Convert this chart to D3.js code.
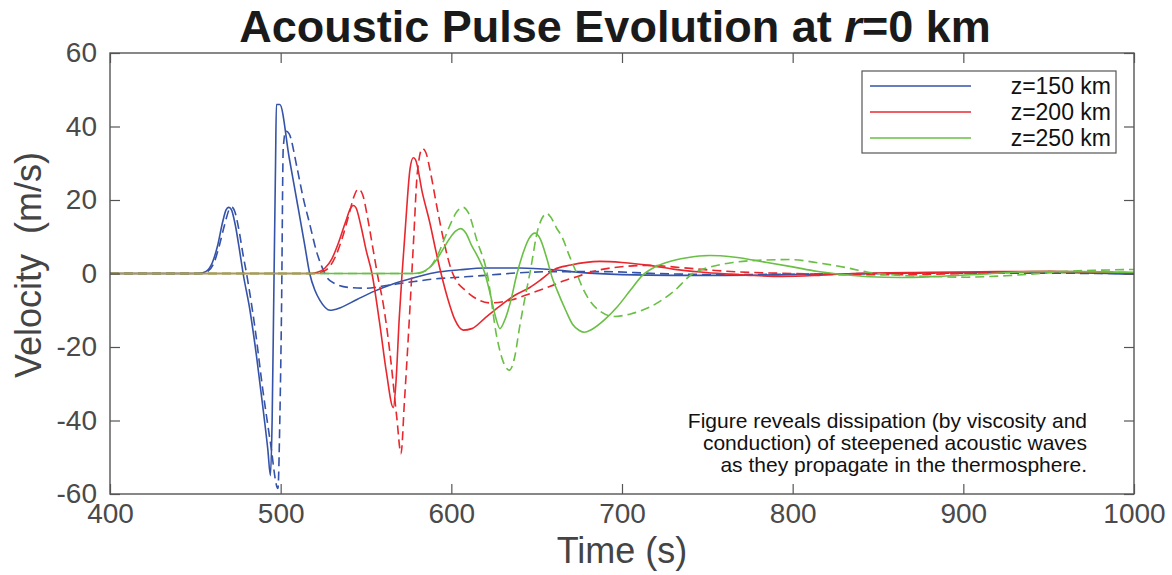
<!DOCTYPE html>
<html>
<head>
<meta charset="utf-8">
<script src="https://cdn.jsdelivr.net/npm/d3@7"></script>
<style>
  body { margin: 0; background: #fff; }
  svg text { font-family: "Liberation Sans", Arial, Helvetica, sans-serif; }
</style>
</head>
<body>
<svg id="chart" width="1172" height="575"></svg>
<script>
// tick values
var xTicks = [400, 500, 600, 700, 800, 900, 1000];
var yTicks = [-60, -40, -20, 0, 20, 40, 60];

// series: [time (s), velocity (m/s)]
var blueSolid = [[400,0],[452,0],[456,0.5],[460,3],[463,7.5],[466,14],[468,17.3],[469.5,18],[471,17.5],[473.5,13],[476,6],[478,0],[482,-10],[486,-23],[490,-38],[492.5,-48],[494,-55],[495,-40],[496,-5],[497,30],[497.5,46],[499.5,46],[505,31.5],[510,18.5],[514,8],[517,0],[520,-4.5],[523,-7.3],[529,-10],[535,-9.3],[545,-7],[555,-4.8],[565,-3],[577,-1.3],[590,0.2],[605,1],[620,1.5],[640,1.5],[660,1],[675,0.3],[700,-0.3],[730,-0.5],[760,-0.5],[800,-0.3],[850,0],[900,0.2],[950,0.3],[1000,-0.2]];
var blueDashed = [[400,0],[453,0],[457,0.5],[461,3],[464,7.5],[467,13],[470,17.5],[471.5,18],[473,17],[475.5,12],[478,5],[480,0],[485,-15],[489.5,-31.5],[494,-46],[498.4,-58.5],[499.5,-40],[500.5,-10],[501.5,34],[503,38.8],[505,38],[509.5,29],[513,21],[517,13.5],[521,6],[524,2],[527,-1],[532,-2.8],[540,-3.8],[550,-4],[560,-3.4],[575,-2.4],[590,-1.5],[605,-1],[620,-0.5],[640,0.2],[660,0.5],[690,0.5],[720,0],[760,-0.3],[800,-0.2],[850,0],[900,0.1],[1000,0]];
var redSolid = [[400,0],[518,0],[522,0.4],[526,1.5],[530,4],[534,8.5],[538,14],[541,17.8],[542.5,18.5],[544,18],[547,13],[550,6.5],[553.5,0],[558,-13.5],[562,-27],[566,-36.5],[567.5,-30],[569.5,-12],[571,-1],[573,12],[575.8,28.5],[577.7,31.5],[579,31],[583,22],[587.5,13.6],[591,6],[594,0],[598,-7],[602,-12.5],[607,-15.4],[612,-15],[620,-12],[628,-9],[637,-6],[646,-3.8],[653,-1.5],[660,1],[670,2.3],[687,3.3],[700,3],[716,2.2],[730,1.2],[746,0.4],[760,-0.1],[775,-0.5],[794,-0.8],[815,-0.5],[835,0],[880,0.3],[920,0.5],[950,0.6],[1000,0]];
var redDashed = [[400,0],[520,0],[524,0.4],[528,1.5],[532,4.5],[536,9.5],[540,16],[543,21],[545.5,23],[548,21.5],[551,15],[554,7],[557,-1],[560,-8],[564,-21.5],[568,-39],[570.5,-49],[572.5,-35],[575.8,-9],[578,10],[580,27],[583,34],[585,33],[588,27],[591.6,18],[596,8],[600,1],[603,-2],[608,-4.5],[613,-6.4],[623,-8],[635,-7.2],[646,-5.5],[658,-3.5],[666,-2],[674,-0.8],[681,0.3],[695,1.6],[716,2.2],[735,1.6],[755,0.8],[775,0.3],[800,0],[830,-0.3],[870,-0.3],[900,0],[950,0.5],[1000,0.2]];
var greenSolid = [[400,0],[578,0],[583,0.4],[587,1.5],[591,3.5],[595,6.5],[599,9.5],[602.5,11.5],[605.5,12.2],[608.5,11],[612,7.5],[615,5],[619.7,0],[623,-6],[626,-12],[628.5,-15],[631,-13],[634.5,-8],[638.5,0],[642,5.5],[645.5,9.5],[649,11],[652,9.5],[656,4],[659,-1],[662,-4.6],[667,-10],[671,-13.8],[675,-15.5],[678,-16],[682,-15.3],[690,-12.5],[697,-9.2],[705,-4.5],[712,-0.5],[719,1.7],[726,3],[738,4.3],[751.5,4.9],[765,4.5],[785,3],[800,1.8],[814,0.6],[830,-0.3],[845,-0.9],[863,-1.1],[885,-0.8],[910,-0.2],[940,0.5],[970,0.5],[1000,0.3]];
var greenDashed = [[400,0],[580,0],[584,0.5],[588,2],[592,5],[596,9.5],[600,14],[603.5,17],[607,18],[610,16.5],[615,9],[621,0],[626.7,-17.4],[630,-23.5],[634,-26.3],[637,-23],[640,-14.6],[643,-7],[646,0],[651,12.5],[656,16.3],[658,15.5],[661.5,12.5],[665,9.8],[669,5],[673.5,0],[677,-4],[681,-7.3],[688,-10.5],[695,-11.7],[705,-11],[716,-9.2],[730,-5],[741.5,0],[752,1.8],[765,3],[780,3.6],[798,3.8],[815,2.9],[833.6,1.4],[843.5,0.4],[860,-0.4],[880,-0.8],[902,-1],[925,-0.6],[945,0],[961,0.6],[980,0.9],[1000,1.1]];

var legendLabels = ["z=150 km", "z=200 km", "z=250 km"];
var note = ["Figure reveals dissipation (by viscosity and",
            "conduction) of steepened acoustic waves",
            "as they propagate in the thermosphere."];

var blue = "#3553a8", red = "#e8282e", green = "#6abf45";

var series = [
  {data: blueSolid, color: blue, dash: null},
  {data: blueDashed, color: blue, dash: "9,5"},
  {data: redSolid, color: red, dash: null},
  {data: redDashed, color: red, dash: "9,5"},
  {data: greenSolid, color: green, dash: null},
  {data: greenDashed, color: green, dash: "9,5"}
];

var svg = d3.select("#chart"),
    margin = {top: 53, right: 38, bottom: 81, left: 110},
    width = 1172 - margin.left - margin.right,
    height = 575 - margin.top - margin.bottom;

var x = d3.scaleLinear().domain([400, 1000]).range([0, width]);
var y = d3.scaleLinear().domain([-60, 60]).range([height, 0]);

var g = svg.append("g")
  .attr("transform", "translate(" + margin.left + "," + margin.top + ")");

var line = d3.line()
  .x(function(d) { return x(d[0]); })
  .y(function(d) { return y(d[1]); })
  .curve(d3.curveMonotoneX);

g.selectAll(".series")
  .data(series)
  .enter()
  .append("path")
  .attr("class", "series")
  .attr("d", function(d) { return line(d.data); })
  .attr("fill", "none")
  .attr("stroke", function(d) { return d.color; })
  .attr("stroke-width", 1.6)
  .attr("stroke-dasharray", function(d) { return d.dash; });

// axes, ticks pointing inward on all four sides
var axisColor = "#555";
var plain = function(d) { return String(d); };
function styleAxis(sel) {
  sel.select(".domain").remove();
  sel.selectAll(".tick line").attr("stroke", axisColor).attr("stroke-width", 1.2);
  sel.selectAll(".tick text").attr("fill", "#4a4a4a").style("font-size", "28px");
}

g.append("g")
  .attr("transform", "translate(0," + height + ")")
  .call(d3.axisBottom(x).tickValues(xTicks).tickFormat(plain).tickSizeInner(-10).tickSizeOuter(0).tickPadding(9))
  .call(styleAxis);

g.append("g")
  .call(d3.axisTop(x).tickValues(xTicks).tickSizeInner(-10).tickSizeOuter(0).tickFormat(""))
  .call(styleAxis);

g.append("g")
  .call(d3.axisLeft(y).tickValues(yTicks).tickFormat(plain).tickSizeInner(-10).tickSizeOuter(0).tickPadding(13))
  .call(styleAxis);

g.append("g")
  .attr("transform", "translate(" + width + ",0)")
  .call(d3.axisRight(y).tickValues(yTicks).tickSizeInner(-10).tickSizeOuter(0).tickFormat(""))
  .call(styleAxis);

g.append("rect")
  .attr("width", width).attr("height", height)
  .attr("fill", "none")
  .attr("stroke", axisColor)
  .attr("stroke-width", 1.4);

// axis labels
svg.append("text")
  .attr("x", margin.left + width / 2)
  .attr("y", 563)
  .attr("text-anchor", "middle")
  .attr("fill", "#444")
  .style("font-size", "36px")
  .text("Time (s)");

svg.append("text")
  .attr("transform", "translate(41,265) rotate(-90)")
  .attr("text-anchor", "middle")
  .attr("fill", "#444")
  .style("font-size", "36px")
  .style("white-space", "pre")
  .text("Velocity  (m/s)");

// title
var title = svg.append("text")
  .attr("x", 615)
  .attr("y", 42)
  .attr("text-anchor", "middle")
  .attr("fill", "#1a1a1a")
  .style("font-size", "45px")
  .style("font-weight", "bold");
title.append("tspan").text("Acoustic Pulse Evolution at ");
title.append("tspan").style("font-style", "italic").text("r");
title.append("tspan").text("=0 km");

// legend
var legend = svg.append("g");
legend.append("rect")
  .attr("x", 862).attr("y", 71)
  .attr("width", 254).attr("height", 82)
  .attr("fill", "#fff")
  .attr("stroke", axisColor)
  .attr("stroke-width", 1.2);

var legendColors = [blue, red, green];
var item = legend.selectAll(".item")
  .data(legendLabels)
  .enter()
  .append("g")
  .attr("class", "item")
  .attr("transform", function(d, i) { return "translate(0," + (86 + i * 26) + ")"; });

item.append("line")
  .attr("x1", 870).attr("x2", 971)
  .attr("stroke", function(d, i) { return legendColors[i]; })
  .attr("stroke-width", 1.6);

item.append("text")
  .attr("x", 1111)
  .attr("y", 8)
  .attr("text-anchor", "end")
  .attr("fill", "#111")
  .style("font-size", "23px")
  .text(function(d) { return d; });

// annotation
svg.append("g").selectAll("text")
  .data(note)
  .enter()
  .append("text")
  .attr("x", 1087)
  .attr("y", function(d, i) { return 428 + i * 22; })
  .attr("text-anchor", "end")
  .attr("fill", "#111")
  .style("font-size", "21px")
  .text(function(d) { return d; });
</script>
</body>
</html>
